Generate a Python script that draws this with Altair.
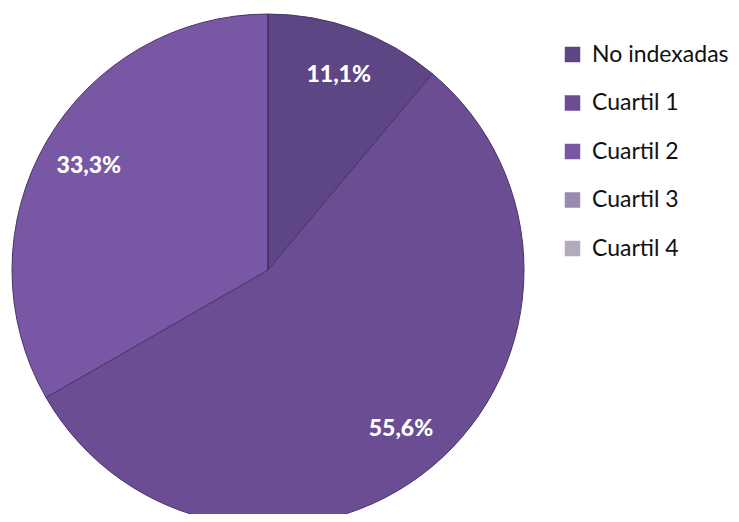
import altair as alt
import pandas as pd

categories = ["No indexadas", "Cuartil 1", "Cuartil 2", "Cuartil 3", "Cuartil 4"]
values = [11.1, 55.6, 33.3, 0.0, 0.0]
labels = ["11,1%", "55,6%", "33,3%", "", ""]
colors = ["#5e4583", "#6a4d93", "#7858a5", "#9a8ab0", "#b2abbe"]

df = pd.DataFrame({"cat": categories, "val": values, "lab": labels, "ord": list(range(5))})

color = alt.Color("cat:N", scale=alt.Scale(domain=categories, range=colors),
                  sort=categories,
                  legend=alt.Legend(title=None, orient="none", legendX=553, legendY=35,
                                    symbolType="square", symbolSize=240, symbolStrokeWidth=0,
                                    labelFontSize=23, labelFont="Lato", labelColor="#111111",
                                    rowPadding=24.5, labelOffset=8, labelLimit=300))

base = alt.Chart(df).encode(
    theta=alt.Theta("val:Q", stack=True),
    order=alt.Order("ord:Q"),
)

arcs = base.mark_arc(stroke="#4a3468", strokeWidth=1).encode(
    color=color,
    radius=alt.value(256),
    x=alt.value(260), y=alt.value(262),
)

text = base.mark_text(color="white", fontSize=23, fontWeight=900, font="Lato").encode(
    text="lab:N",
    radius=alt.value(207),
    x=alt.value(260), y=alt.value(262),
)

chart = alt.layer(arcs, text).properties(
    width=723, height=506, padding=0, autosize=alt.AutoSizeParams(type="none")
).configure_view(stroke=None)

chart.save("out.html", embed_options={"renderer": "svg", "actions": False})
